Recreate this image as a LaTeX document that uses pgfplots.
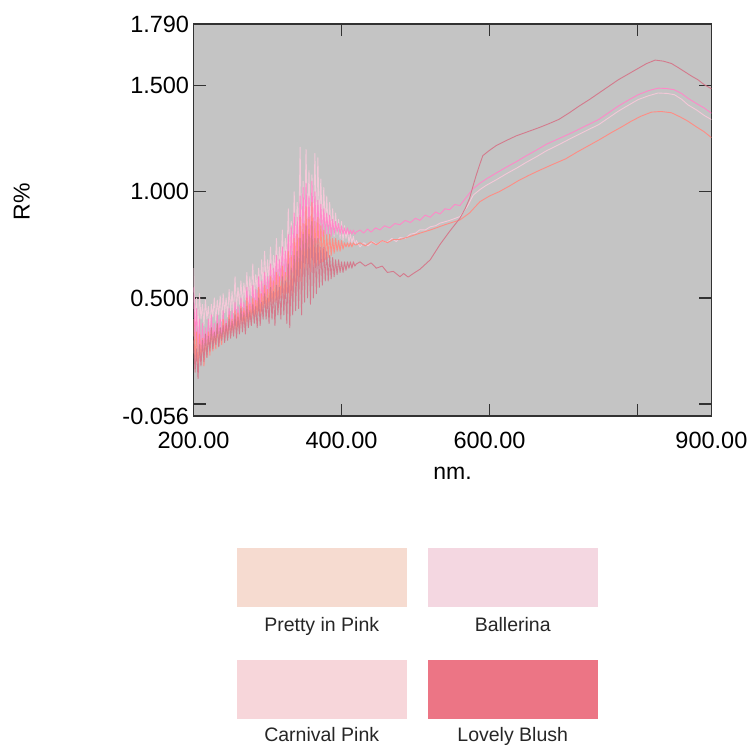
\documentclass[border=0pt]{standalone}
\usepackage{fontspec}
\setmainfont{Liberation Sans}
\usepackage{pgfplots}
\pgfplotsset{compat=1.18}
\definecolor{axisgray}{RGB}{196,196,196}
\definecolor{frame}{RGB}{50,50,50}
\definecolor{cmauve}{RGB}{212,122,140}
\definecolor{chot}{RGB}{255,136,200}
\definecolor{clight}{RGB}{244,200,216}
\definecolor{csalmon}{RGB}{255,140,132}
\definecolor{swA}{RGB}{246,219,208}
\definecolor{swB}{RGB}{244,215,225}
\definecolor{swC}{RGB}{247,214,218}
\definecolor{swD}{RGB}{236,117,133}
\begin{document}
\begin{tikzpicture}[x=1pt,y=1pt]
\useasboundingbox (0,0) rectangle (747,746);
\begin{axis}[
  at={(193.6pt,330pt)}, anchor=south west,
  scale only axis, width=517.8pt, height=392pt,
  xmin=200, xmax=900, ymin=-0.056, ymax=1.79,
  axis background/.style={fill=axisgray},
  axis line style={frame, line width=1.3pt},
  every tick/.style={frame, line width=1.3pt},
  tick align=inside, major tick length=12pt,
  tick pos=both, xticklabel pos=lower, yticklabel pos=left,
  xtick={200,400,600,800,900},
  xticklabels={200.00,400.00,600.00,,900.00},
  ytick={-0.056,0,0.5,1,1.5,1.79},
  yticklabels={-0.056,,0.500,1.000,1.500,1.790},
  tick label style={font=\fontsize{23.5}{27}\selectfont},
  xticklabel style={yshift=-13pt},
  yticklabel style={xshift=-1pt},
  xlabel={nm.}, ylabel={R\%},
  label style={font=\fontsize{23}{27}\selectfont},
  xlabel style={at={(axis description cs:0.5,-0.145)}, anchor=center},
  ylabel style={at={(axis description cs:-0.332,0.547)}, anchor=center},
  clip=true,
  every axis plot/.append style={line width=0.9pt, line join=round},
]
% light pink
\addplot[clight] coordinates {
(200,0.64)(202,0.36)(204,0.50)(206,0.33)(208,0.52)(210,0.40)(212,0.47)(214,0.37)(216,0.49)(218,0.40)
(220,0.46)(222,0.36)(224,0.47)(226,0.41)(228,0.50)(230,0.39)(232,0.49)(234,0.42)(236,0.51)(238,0.39)
(240,0.52)(242,0.43)(244,0.50)(246,0.41)(248,0.54)(250,0.44)(252,0.53)(254,0.43)(256,0.60)(258,0.45)
(260,0.55)(262,0.47)(264,0.58)(266,0.46)(268,0.57)(270,0.49)(272,0.62)(274,0.48)(276,0.60)(278,0.51)
(280,0.66)(282,0.50)(284,0.61)(286,0.54)(288,0.64)(290,0.52)(292,0.68)(294,0.55)(296,0.72)(298,0.56)
(300,0.68)(302,0.58)(304,0.74)(306,0.57)(308,0.70)(310,0.61)(312,0.78)(314,0.60)(316,0.74)(318,0.64)
(320,0.82)(322,0.63)(324,0.78)(326,0.66)(328,0.92)(330,0.68)(332,0.86)(334,0.70)(336,1.00)(338,0.72)
(340,0.95)(342,0.75)(344,1.21)(346,0.74)(348,1.05)(350,0.78)(352,1.20)(354,0.80)(356,1.10)(358,0.79)
(360,1.08)(362,0.82)(364,1.18)(366,0.80)(368,1.16)(370,0.84)(372,1.06)(374,0.82)(376,1.02)(378,0.83)
(380,0.98)(382,0.81)(384,0.95)(386,0.80)(388,0.92)(390,0.79)(392,0.90)(394,0.80)(396,0.87)(398,0.78)
(400,0.86)(402,0.77)(404,0.84)(406,0.78)(408,0.82)(410,0.76)(412,0.80)(414,0.76)(416,0.79)(418,0.75)
(420,0.77)(425,0.74)(430,0.76)(436,0.745)(442,0.765)(448,0.75)(455,0.77)(461,0.76)(468,0.78)(474,0.765)
(479,0.785)(486,0.78)(493,0.80)(500,0.805)(506,0.821)(513,0.82)(520,0.835)(527,0.84)(533,0.852)
(546,0.865)(560,0.883)(570,0.93)(578,0.984)(587,1.01)(596,1.031)(610,1.058)(623,1.085)(637,1.112)
(650,1.139)(664,1.166)(677,1.193)(695,1.224)(712,1.255)(730,1.286)(748,1.317)(761,1.348)(774,1.379)
(788,1.408)(801,1.434)(815,1.452)(828,1.465)(840,1.463)(850,1.457)(860,1.435)(868,1.410)(880,1.385)
(890,1.360)(900,1.340)
};
% hot pink
\addplot[chot] coordinates {
(200,0.55)(202,0.30)(204,0.45)(206,0.26)(208,0.40)(210,0.22)(212,0.38)(214,0.26)(216,0.36)(218,0.28)
(220,0.40)(222,0.27)(224,0.42)(226,0.30)(228,0.38)(230,0.29)(232,0.42)(234,0.33)(236,0.40)(238,0.31)
(240,0.44)(242,0.33)(244,0.40)(246,0.32)(248,0.45)(250,0.35)(252,0.44)(254,0.34)(256,0.48)(258,0.37)
(260,0.46)(262,0.36)(264,0.50)(266,0.39)(268,0.48)(270,0.38)(272,0.55)(274,0.42)(276,0.51)(278,0.41)
(280,0.56)(282,0.44)(284,0.54)(286,0.45)(288,0.60)(290,0.46)(292,0.58)(294,0.48)(296,0.62)(298,0.50)
(300,0.60)(302,0.52)(304,0.66)(306,0.51)(308,0.64)(310,0.55)(312,0.70)(314,0.54)(316,0.68)(318,0.58)
(320,0.74)(322,0.57)(324,0.72)(326,0.60)(328,0.80)(330,0.58)(332,0.84)(334,0.62)(336,0.90)(338,0.63)
(340,0.88)(342,0.66)(344,0.98)(346,0.67)(348,1.02)(350,0.70)(352,1.04)(354,0.72)(356,0.98)(358,0.73)
(360,1.05)(362,0.75)(364,1.00)(366,0.76)(368,0.96)(370,0.78)(372,0.94)(374,0.79)(376,0.92)(378,0.80)
(380,0.90)(382,0.80)(384,0.89)(386,0.79)(388,0.87)(390,0.80)(392,0.86)(394,0.81)(396,0.85)(398,0.80)
(400,0.84)(402,0.80)(404,0.83)(406,0.80)(408,0.83)(410,0.80)(412,0.82)(414,0.80)(416,0.82)(418,0.80)
(420,0.81)(425,0.82)(430,0.805)(435,0.825)(440,0.81)(446,0.83)(452,0.82)(458,0.84)(465,0.83)(472,0.85)
(479,0.845)(486,0.865)(493,0.855)(500,0.875)(506,0.865)(513,0.89)(520,0.88)(527,0.905)(533,0.895)
(540,0.92)(546,0.915)(553,0.94)(560,0.935)(570,0.98)(578,1.015)(587,1.04)(596,1.061)(610,1.09)
(623,1.116)(637,1.143)(650,1.170)(664,1.197)(677,1.224)(695,1.252)(712,1.279)(730,1.31)(748,1.341)
(761,1.372)(774,1.403)(788,1.432)(801,1.457)(815,1.476)(828,1.488)(840,1.486)(850,1.480)(860,1.462)
(868,1.441)(880,1.415)(890,1.395)(900,1.370)
};
% salmon
\addplot[csalmon] coordinates {
(200,0.40)(202,0.20)(204,0.34)(206,0.15)(208,0.33)(210,0.20)(212,0.31)(214,0.18)(216,0.30)(218,0.22)
(220,0.34)(222,0.23)(224,0.35)(226,0.25)(228,0.33)(230,0.26)(232,0.36)(234,0.27)(236,0.34)(238,0.28)
(240,0.40)(242,0.30)(244,0.38)(246,0.31)(248,0.42)(250,0.32)(252,0.40)(254,0.33)(256,0.44)(258,0.35)
(260,0.43)(262,0.34)(264,0.46)(266,0.37)(268,0.45)(270,0.36)(272,0.50)(274,0.38)(276,0.47)(278,0.40)
(280,0.50)(282,0.40)(284,0.49)(286,0.42)(288,0.55)(290,0.42)(292,0.52)(294,0.44)(296,0.56)(298,0.45)
(300,0.54)(302,0.46)(304,0.60)(306,0.47)(308,0.58)(310,0.48)(312,0.62)(314,0.47)(316,0.60)(318,0.50)
(320,0.65)(322,0.48)(324,0.62)(326,0.52)(328,0.72)(330,0.44)(332,0.70)(334,0.50)(336,0.78)(338,0.52)
(340,0.80)(342,0.54)(344,0.88)(346,0.55)(348,0.85)(350,0.58)(352,0.93)(354,0.60)(356,0.88)(358,0.62)
(360,0.95)(362,0.63)(364,0.86)(366,0.65)(368,0.88)(370,0.66)(372,0.84)(374,0.67)(376,0.82)(378,0.68)
(380,0.80)(382,0.69)(384,0.80)(386,0.70)(388,0.78)(390,0.71)(392,0.78)(394,0.72)(396,0.77)(398,0.72)
(400,0.77)(402,0.73)(404,0.76)(406,0.74)(408,0.76)(410,0.74)(412,0.76)(414,0.74)(416,0.76)(418,0.75)
(420,0.75)(425,0.76)(432,0.745)(440,0.765)(447,0.75)(455,0.77)(462,0.76)(470,0.775)(479,0.775)
(493,0.79)(506,0.805)(520,0.82)(540,0.845)(560,0.867)(573,0.90)(587,0.953)(600,0.98)(613,1.0)
(627,1.027)(640,1.054)(653,1.077)(667,1.10)(685,1.128)(703,1.155)(718,1.186)(734,1.217)(750,1.248)
(765,1.279)(779,1.306)(792,1.333)(805,1.356)(819,1.375)(832,1.378)(846,1.372)(858,1.352)(868,1.333)
(880,1.305)(890,1.283)(900,1.255)
};
% mauve
\addplot[cmauve] coordinates {
(200,0.30)(202,0.15)(204,0.26)(206,0.12)(208,0.28)(210,0.18)(212,0.30)(214,0.20)(216,0.33)(218,0.22)
(220,0.32)(222,0.25)(224,0.36)(226,0.26)(228,0.34)(230,0.28)(232,0.38)(234,0.27)(236,0.36)(238,0.30)
(240,0.37)(242,0.29)(244,0.38)(246,0.30)(248,0.40)(250,0.31)(252,0.39)(254,0.32)(256,0.42)(258,0.31)
(260,0.41)(262,0.33)(264,0.45)(266,0.34)(268,0.43)(270,0.33)(272,0.46)(274,0.36)(276,0.44)(278,0.37)
(280,0.47)(282,0.38)(284,0.46)(286,0.36)(288,0.50)(290,0.37)(292,0.48)(294,0.40)(296,0.52)(298,0.40)
(300,0.50)(302,0.38)(304,0.55)(306,0.40)(308,0.53)(310,0.37)(312,0.56)(314,0.42)(316,0.55)(318,0.40)
(320,0.60)(322,0.42)(324,0.58)(326,0.38)(328,0.66)(330,0.36)(332,0.64)(334,0.42)(336,0.70)(338,0.44)
(340,0.72)(342,0.45)(344,0.78)(346,0.42)(348,0.80)(350,0.48)(352,0.84)(354,0.50)(356,0.80)(358,0.47)
(360,0.86)(362,0.50)(364,0.78)(366,0.52)(368,0.78)(370,0.55)(372,0.74)(374,0.56)(376,0.74)(378,0.58)
(380,0.72)(382,0.58)(384,0.70)(386,0.59)(388,0.69)(390,0.60)(392,0.68)(394,0.61)(396,0.68)(398,0.62)
(400,0.67)(402,0.62)(404,0.67)(406,0.63)(408,0.67)(410,0.64)(412,0.67)(414,0.64)(416,0.67)(418,0.65)
(420,0.66)(425,0.67)(432,0.65)(440,0.665)(447,0.64)(455,0.65)(462,0.62)(470,0.625)(479,0.60)
(484,0.615)(490,0.598)(497,0.615)(506,0.635)(520,0.68)(533,0.751)(546,0.813)(560,0.875)(567,0.92)
(573,0.968)(578,1.03)(582,1.077)(587,1.13)(591,1.170)(600,1.195)(609,1.217)(622,1.24)(636,1.263)
(652,1.283)(667,1.302)(680,1.32)(694,1.341)(708,1.372)(721,1.403)(735,1.434)(748,1.465)(761,1.496)
(774,1.527)(788,1.555)(801,1.581)(812,1.603)(824,1.620)(835,1.615)(846,1.604)(855,1.585)(864,1.565)
(873,1.545)(882,1.527)(890,1.505)(900,1.485)
};
\end{axis}
% colour swatches
\fill[swA] (236.7,138.7) rectangle (406.7,197.7);
\fill[swB] (427.7,138.7) rectangle (597.7,197.7);
\fill[swC] (236.7,26.7) rectangle (406.7,86);
\fill[swD] (427.7,26.7) rectangle (597.7,86);
\begin{scope}[every node/.style={anchor=base, inner sep=0pt, font=\fontsize{19.5}{23}\selectfont, text=black!85}]
\node at (321.7,114.3) {Pretty in Pink};
\node at (512.7,114.3) {Ballerina};
\node at (321.7,4.5) {Carnival Pink};
\node at (512.7,4.5) {Lovely Blush};
\end{scope}
\end{tikzpicture}
\end{document}
